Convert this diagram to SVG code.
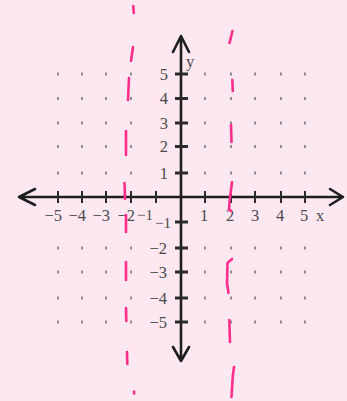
<svg xmlns="http://www.w3.org/2000/svg" width="347" height="401" viewBox="0 0 347 401">
<style>
.dot{stroke:#8e8e8e;stroke-width:2}
.axis{stroke:#1e1e1e;stroke-width:2.6;fill:none;stroke-linecap:round;stroke-linejoin:round}
.xt{stroke:#2a2a2a;stroke-width:2}
.yt{stroke:#2a2a2a;stroke-width:3}
.lbl{font-family:"Liberation Serif",serif;font-size:16.5px;fill:#4a4a4a}
.sm{font-size:15px}
.pink{stroke:#ff2e8c;stroke-width:2.6;fill:none;stroke-linecap:round;stroke-linejoin:round}
</style>
<rect width="347" height="401" fill="#fde8f2"/>
<g id="grid-dots">
<g class="dot">
<path d="M58 72.5v3M82 72.5v3M106 72.5v3M131 72.5v3M205 72.5v3M231 72.5v3M255 72.5v3M281 72.5v3M305 72.5v3"/>
<path d="M58 97v3M82 97v3M106 97v3M131 97v3M205 97v3M231 97v3M255 97v3M281 97v3M305 97v3"/>
<path d="M58 121.5v3M82 121.5v3M106 121.5v3M131 121.5v3M205 121.5v3M231 121.5v3M255 121.5v3M281 121.5v3M305 121.5v3"/>
<path d="M58 145v3M82 145v3M106 145v3M131 145v3M205 145v3M231 145v3M255 145v3M281 145v3M305 145v3"/>
<path d="M58 171.5v3M82 171.5v3M106 171.5v3M131 171.5v3M205 171.5v3M231 171.5v3M255 171.5v3M281 171.5v3M305 171.5v3"/>
<path d="M58 246.5v3M82 246.5v3M106 246.5v3M131 246.5v3M205 246.5v3M231 246.5v3M255 246.5v3M281 246.5v3M305 246.5v3"/>
<path d="M58 270.5v3M82 270.5v3M106 270.5v3M131 270.5v3M205 270.5v3M231 270.5v3M255 270.5v3M281 270.5v3M305 270.5v3"/>
<path d="M58 296.5v3M82 296.5v3M106 296.5v3M131 296.5v3M205 296.5v3M231 296.5v3M255 296.5v3M281 296.5v3M305 296.5v3"/>
<path d="M58 320.5v3M82 320.5v3M106 320.5v3M131 320.5v3M205 320.5v3M231 320.5v3M255 320.5v3M281 320.5v3M305 320.5v3"/>
</g>
</g>
<g id="axes">
<path class="axis" d="M19 197H343M35 189L19 197L35 205M330 189L343 197L330 205"/>
<path class="axis" d="M181 36V361M173 52L181 36L189 52M173 347L181 361L189 347"/>
<g class="xt">
<path d="M58 191v12M82 191v12M106 191v12M131 191v12M156 191v12M205 191v12M231 191v12M255 191v12M281 191v12M305 191v12"/>
</g>
<g class="yt">
<path d="M175 74h13M175 98.5h13M175 123h13M175 146.5h13M175 173h13M175 222h13M175 248h13M175 272h13M175 298h13M175 322h13"/>
</g>
</g>
<g id="labels" class="lbl">
<text x="62" y="221" text-anchor="end">−5</text>
<text x="86" y="221" text-anchor="end">−4</text>
<text x="110" y="221" text-anchor="end">−3</text>
<text x="135" y="221" text-anchor="end">−2</text>
<text class="sm" x="153" y="220" text-anchor="end">−1</text>
<text x="204" y="221" text-anchor="middle">1</text>
<text x="230" y="221" text-anchor="middle">2</text>
<text x="255" y="221" text-anchor="middle">3</text>
<text x="280" y="221" text-anchor="middle">4</text>
<text x="304" y="221" text-anchor="middle">5</text>
<text x="316" y="221">x</text>
<text x="186" y="67">y</text>
<text x="168" y="79.5" text-anchor="end">5</text>
<text x="168" y="104" text-anchor="end">4</text>
<text x="168" y="128.5" text-anchor="end">3</text>
<text x="168" y="152" text-anchor="end">2</text>
<text x="168" y="178.5" text-anchor="end">1</text>
<text class="sm" x="171" y="228" text-anchor="end">−1</text>
<text x="167" y="253.5" text-anchor="end">−2</text>
<text x="167" y="277.5" text-anchor="end">−3</text>
<text x="167" y="303.5" text-anchor="end">−4</text>
<text x="167" y="327.5" text-anchor="end">−5</text>
</g>
<g id="pink-lines" class="pink">
<path d="M133.3 6L133.8 13"/>
<path d="M133 47L131 61"/>
<path d="M129 78L128 100"/>
<path d="M126 131L126 155"/>
<path d="M124.5 183L125 199"/>
<path d="M126 215L126 232"/>
<path d="M126 262L126 280"/>
<path d="M126 308L126.3 321"/>
<path d="M127 352L127.3 364"/>
<path d="M134 391.5L134.2 393.5"/>
<path d="M232.5 31L229.5 43"/>
<path d="M232.3 80L232.8 91"/>
<path d="M231 125L231.5 142"/>
<path d="M232 182L229.5 202L229 209L231 211"/>
<path d="M232 259L227.5 263L227 283L228.5 293"/>
<path d="M229.3 320L230 342"/>
<path d="M234 367L232.7 377L231.5 397"/>
</g>
</svg>
